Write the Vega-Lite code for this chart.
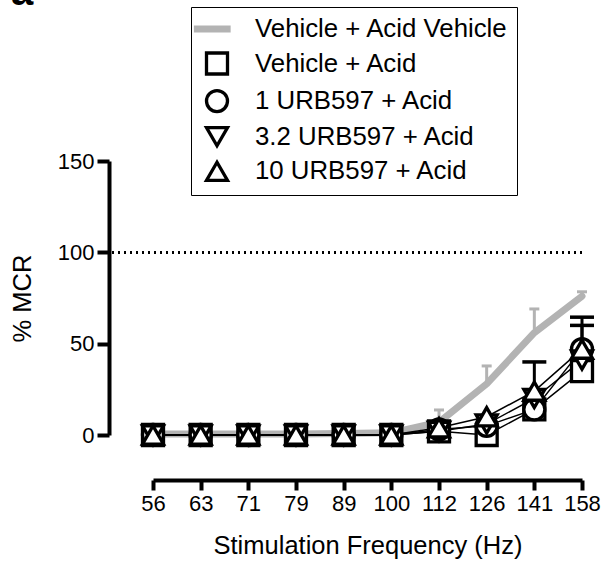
{
  "$schema": "https://vega.github.io/schema/vega-lite/v6.json",
  "width": 470,
  "height": 274,
  "autosize": {"type": "none"},
  "padding": {"left": 112, "top": 161, "right": 21, "bottom": 128},
  "background": "white",
  "config": {
    "font": "Liberation Sans",
    "view": {"stroke": null},
    "legend": {
      "labelFont": "Liberation Sans",
      "labelFontSize": 25.8,
      "labelColor": "black",
      "labelLimit": 500,
      "labelOffset": 24,
      "symbolOffset": 4,
      "padding": 8,
      "rowPadding": 2.6,
      "symbolSize": 441,
      "fillColor": "white",
      "strokeColor": "black",
      "symbolFillColor": "white"
    }
  },
  "title": {
    "text": "a",
    "anchor": "start",
    "frame": "group",
    "orient": "top",
    "fontSize": 40,
    "fontWeight": "bold",
    "font": "Liberation Sans",
    "color": "black",
    "dx": -101,
    "offset": -46,
    "baseline": "bottom"
  },
  "data": {
    "values": [
      {"series": "Vehicle + Acid Vehicle", "freq": 56, "value": 0.5, "upper": null},
      {"series": "Vehicle + Acid Vehicle", "freq": 63, "value": 0.5, "upper": null},
      {"series": "Vehicle + Acid Vehicle", "freq": 71, "value": 0.5, "upper": null},
      {"series": "Vehicle + Acid Vehicle", "freq": 79, "value": 0.5, "upper": null},
      {"series": "Vehicle + Acid Vehicle", "freq": 89, "value": 0.8, "upper": null},
      {"series": "Vehicle + Acid Vehicle", "freq": 100, "value": 1.2, "upper": null},
      {"series": "Vehicle + Acid Vehicle", "freq": 112, "value": 7, "upper": 13.7},
      {"series": "Vehicle + Acid Vehicle", "freq": 126, "value": 28, "upper": 37.8},
      {"series": "Vehicle + Acid Vehicle", "freq": 141, "value": 56, "upper": 69},
      {"series": "Vehicle + Acid Vehicle", "freq": 158, "value": 76, "upper": 78.4},
      {"series": "Vehicle + Acid", "freq": 56, "value": 0, "upper": null},
      {"series": "Vehicle + Acid", "freq": 63, "value": 0, "upper": null},
      {"series": "Vehicle + Acid", "freq": 71, "value": 0, "upper": null},
      {"series": "Vehicle + Acid", "freq": 79, "value": 0, "upper": null},
      {"series": "Vehicle + Acid", "freq": 89, "value": 0, "upper": null},
      {"series": "Vehicle + Acid", "freq": 100, "value": 0, "upper": null},
      {"series": "Vehicle + Acid", "freq": 112, "value": 2, "upper": null},
      {"series": "Vehicle + Acid", "freq": 126, "value": 0, "upper": null},
      {"series": "Vehicle + Acid", "freq": 141, "value": 14, "upper": null},
      {"series": "Vehicle + Acid", "freq": 158, "value": 35, "upper": null},
      {"series": "1 URB597 + Acid", "freq": 56, "value": 0, "upper": null},
      {"series": "1 URB597 + Acid", "freq": 63, "value": 0, "upper": null},
      {"series": "1 URB597 + Acid", "freq": 71, "value": 0, "upper": null},
      {"series": "1 URB597 + Acid", "freq": 79, "value": 0, "upper": null},
      {"series": "1 URB597 + Acid", "freq": 89, "value": 0, "upper": null},
      {"series": "1 URB597 + Acid", "freq": 100, "value": 0, "upper": null},
      {"series": "1 URB597 + Acid", "freq": 112, "value": 3, "upper": null},
      {"series": "1 URB597 + Acid", "freq": 126, "value": 5, "upper": null},
      {"series": "1 URB597 + Acid", "freq": 141, "value": 14, "upper": null},
      {"series": "1 URB597 + Acid", "freq": 158, "value": 47, "upper": 64.5},
      {"series": "3.2 URB597 + Acid", "freq": 56, "value": 0, "upper": null},
      {"series": "3.2 URB597 + Acid", "freq": 63, "value": 0, "upper": null},
      {"series": "3.2 URB597 + Acid", "freq": 71, "value": 0, "upper": null},
      {"series": "3.2 URB597 + Acid", "freq": 79, "value": 0, "upper": null},
      {"series": "3.2 URB597 + Acid", "freq": 89, "value": 0, "upper": null},
      {"series": "3.2 URB597 + Acid", "freq": 100, "value": 0, "upper": null},
      {"series": "3.2 URB597 + Acid", "freq": 112, "value": 2, "upper": null},
      {"series": "3.2 URB597 + Acid", "freq": 126, "value": 6, "upper": null},
      {"series": "3.2 URB597 + Acid", "freq": 141, "value": 20, "upper": null},
      {"series": "3.2 URB597 + Acid", "freq": 158, "value": 41, "upper": null},
      {"series": "10 URB597 + Acid", "freq": 56, "value": 0, "upper": null},
      {"series": "10 URB597 + Acid", "freq": 63, "value": 0, "upper": null},
      {"series": "10 URB597 + Acid", "freq": 71, "value": 0, "upper": null},
      {"series": "10 URB597 + Acid", "freq": 79, "value": 0, "upper": null},
      {"series": "10 URB597 + Acid", "freq": 89, "value": 0, "upper": null},
      {"series": "10 URB597 + Acid", "freq": 100, "value": 0, "upper": null},
      {"series": "10 URB597 + Acid", "freq": 112, "value": 4, "upper": null},
      {"series": "10 URB597 + Acid", "freq": 126, "value": 10, "upper": null},
      {"series": "10 URB597 + Acid", "freq": 141, "value": 24, "upper": 40},
      {"series": "10 URB597 + Acid", "freq": 158, "value": 47, "upper": 60}
    ]
  },
  "encoding": {
    "x": {
      "field": "freq",
      "type": "ordinal",
      "scale": {"type": "point", "range": [41, 470], "padding": 0},
      "axis": {
        "title": "Stimulation Frequency (Hz)",
        "orient": "bottom",
        "offset": 45,
        "labelAngle": 0,
        "labelFontSize": 22,
        "labelColor": "black",
        "labelPadding": 3,
        "titleFontSize": 25.5,
        "titleFontWeight": "normal",
        "titleColor": "black",
        "titlePadding": 19,
        "domainColor": "black",
        "domainWidth": 4,
        "tickColor": "black",
        "tickWidth": 4,
        "tickSize": 10,
        "grid": false
      }
    },
    "y": {
      "field": "value",
      "type": "quantitative",
      "scale": {"domain": [0, 150], "nice": false, "zero": true},
      "axis": {
        "title": "% MCR",
        "values": [0, 50, 100, 150],
        "offset": 3,
        "labelFontSize": 22,
        "labelColor": "black",
        "labelPadding": 3,
        "titleFontSize": 25.5,
        "titleFontWeight": "normal",
        "titleColor": "black",
        "titlePadding": 22,
        "domainColor": "black",
        "domainWidth": 4,
        "tickColor": "black",
        "tickWidth": 4,
        "tickSize": 12,
        "grid": false
      }
    }
  },
  "layer": [
    {
      "mark": {"type": "rule", "color": "black", "strokeWidth": 2.5, "strokeDash": [2, 4]},
      "encoding": {"y": {"datum": 100}, "x": null}
    },
    {
      "transform": [{"filter": "datum.series === 'Vehicle + Acid Vehicle'"}],
      "mark": {"type": "line", "color": "#b3b3b3", "strokeWidth": 7, "strokeCap": "round", "strokeJoin": "round"},
      "encoding": {}
    },
    {
      "transform": [{"filter": "datum.series === 'Vehicle + Acid Vehicle' && datum.upper != null"}],
      "mark": {"type": "rule", "color": "#b3b3b3", "strokeWidth": 3},
      "encoding": {"y2": {"field": "upper"}}
    },
    {
      "transform": [{"filter": "datum.series === 'Vehicle + Acid Vehicle' && datum.upper != null"}],
      "mark": {"type": "tick", "color": "#b3b3b3", "size": 10, "thickness": 3, "opacity": 1},
      "encoding": {"y": {"field": "upper", "type": "quantitative"}}
    },
    {
      "transform": [{"filter": "datum.series !== 'Vehicle + Acid Vehicle' && datum.upper != null"}],
      "mark": {"type": "rule", "color": "black", "strokeWidth": 3},
      "encoding": {"y2": {"field": "upper"}}
    },
    {
      "transform": [{"filter": "datum.series !== 'Vehicle + Acid Vehicle' && datum.upper != null"}],
      "mark": {"type": "tick", "color": "black", "size": 24, "thickness": 3.5, "opacity": 1},
      "encoding": {"y": {"field": "upper", "type": "quantitative"}}
    },
    {
      "transform": [{"filter": "datum.series !== 'Vehicle + Acid Vehicle'"}],
      "mark": {"type": "line", "color": "black", "strokeWidth": 1.5},
      "encoding": {"detail": {"field": "series"}}
    },
    {
      "transform": [{"filter": "datum.series !== 'Vehicle + Acid Vehicle'"}],
      "mark": {"type": "point", "filled": true, "fill": "white", "opacity": 1, "size": 441},
      "encoding": {
        "shape": {
          "field": "series",
          "type": "nominal",
          "scale": {
            "domain": ["Vehicle + Acid Vehicle", "Vehicle + Acid", "1 URB597 + Acid", "3.2 URB597 + Acid", "10 URB597 + Acid"],
            "range": ["M-2.2,0H1.3", "square", "circle", "triangle-down", "triangle-up"]
          },
          "legend": {
            "title": null, "orient": "none", "legendX": 79, "legendY": -154,
            "encode": {
              "legend": {"update": {"strokeWidth": {"value": 4.5}}},
              "symbols": {"update": {"strokeCap": {"value": "round"}}}
            }
          }
        },
        "stroke": {
          "field": "series",
          "type": "nominal",
          "scale": {
            "domain": ["Vehicle + Acid Vehicle", "Vehicle + Acid", "1 URB597 + Acid", "3.2 URB597 + Acid", "10 URB597 + Acid"],
            "range": ["#b3b3b3", "black", "black", "black", "black"]
          },
          "legend": {"title": null, "orient": "none", "legendX": 79, "legendY": -154}
        },
        "strokeWidth": {
          "field": "series",
          "type": "nominal",
          "scale": {
            "type": "ordinal",
            "domain": ["Vehicle + Acid Vehicle", "Vehicle + Acid", "1 URB597 + Acid", "3.2 URB597 + Acid", "10 URB597 + Acid"],
            "range": [7, 3.3, 3.3, 3.3, 3.3]
          },
          "legend": {"title": null, "orient": "none", "legendX": 79, "legendY": -154}
        }
      }
    }
  ]
}
